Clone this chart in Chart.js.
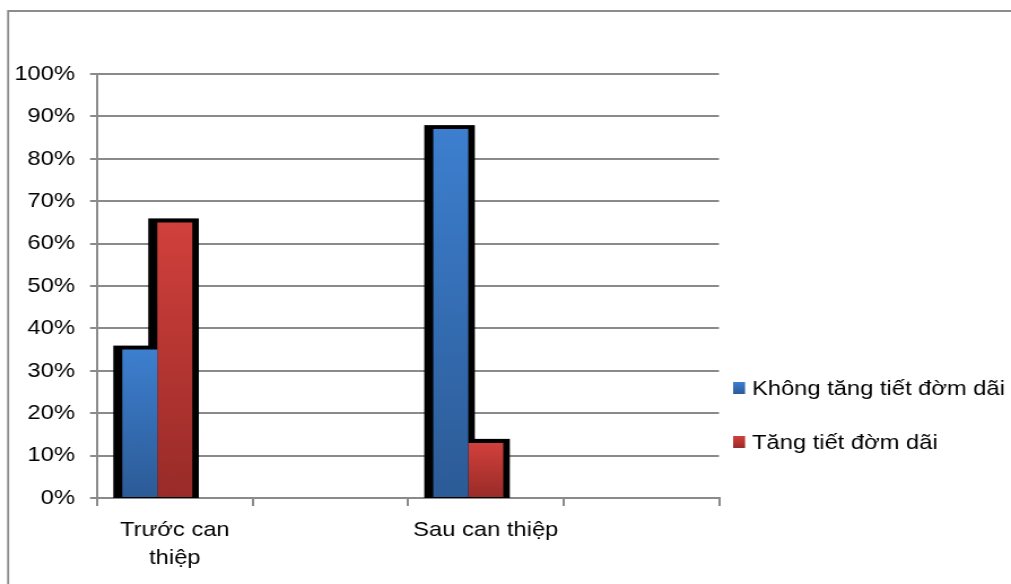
<!DOCTYPE html>
<html lang="vi">
<head>
  <meta charset="UTF-8" />
  <title>Tăng tiết đờm dãi</title>
  <style>
    html, body {
      margin: 0;
      padding: 0;
      background: #fff;
      overflow: hidden;
    }
    /* chart is laid out on a narrower canvas and widened to fill the page */
    #wrap {
      width: 895px;
      height: 584px;
      transform: scaleX(1.1296);
      transform-origin: 0 0;
    }
  </style>
</head>
<body>
  <div id="wrap"><canvas id="chart" width="895" height="584"></canvas></div>

  <script src="https://cdn.jsdelivr.net/npm/chart.js"></script>
  <script>
    const categories = [['Trước can', 'thiệp'], '', 'Sau can thiệp', ''];
    const seriesNames = ['Không tăng tiết đờm dãi', 'Tăng tiết đờm dãi'];
    const khongTang = [35, null, 87, null];
    const tang = [65, null, 13, null];
    const emptySlot = [null, null, null, null];
    const yTickLabels = ['0%', '10%', '20%', '30%', '40%', '50%', '60%', '70%', '80%', '90%', '100%'];

    const FONT = "'Liberation Sans', Arial, sans-serif";
    const FONT_SIZE = 21;
    const GRID = '#8a8a8a';
    const blue = ['#3d7fcf', '#2c5b96'];
    const red = ['#d1403c', '#982b28'];

    // vertical gradient from the top of each bar down to the axis
    function barGradient(colors) {
      return (ctx) => {
        const chart = ctx.chart;
        const y = chart.scales.y;
        if (ctx.type !== 'data' || !y || ctx.raw == null) return colors[0];
        const top = y.getPixelForValue(ctx.raw);
        const bottom = y.getPixelForValue(0);
        if (!isFinite(top) || !isFinite(bottom) || top === bottom) return colors[0];
        const g = chart.ctx.createLinearGradient(0, top, 0, bottom);
        g.addColorStop(0, colors[0]);
        g.addColorStop(1, colors[1]);
        return g;
      };
    }

    // thin frame along the left and top edges
    const framePlugin = {
      id: 'frame',
      beforeDraw(chart) {
        const c = chart.ctx;
        c.save();
        c.strokeStyle = '#8c8c8c';
        c.lineWidth = 1.8;
        c.beginPath();
        c.moveTo(7.2, chart.height + 2);
        c.lineTo(7.2, 11);
        c.lineTo(chart.width + 2, 11);
        c.stroke();
        c.restore();
      }
    };

    // black outline behind each bar
    const outlinePlugin = {
      id: 'barOutline',
      beforeDatasetsDraw(chart) {
        const c = chart.ctx;
        c.save();
        c.fillStyle = '#000';
        chart.data.datasets.forEach((ds, i) => {
          const meta = chart.getDatasetMeta(i);
          meta.data.forEach((bar, j) => {
            if (ds.data[j] == null) return;
            const p = bar.getProps(['x', 'y', 'base', 'width'], true);
            const left = p.x - p.width / 2 - 8;
            const right = p.x + p.width / 2 + 5.8;
            c.fillRect(left, p.y - 4, right - left, p.base - p.y + 5);
          });
        });
        c.restore();
      }
    };

    // legend on the right
    const legendPlugin = {
      id: 'sideLegend',
      afterDraw(chart) {
        const c = chart.ctx;
        const rows = [388, 442];
        c.save();
        c.font = FONT_SIZE + 'px ' + FONT;
        c.textBaseline = 'middle';
        seriesNames.forEach((name, i) => {
          const cy = rows[i];
          const colors = i === 0 ? blue : red;
          const g = c.createLinearGradient(0, cy - 6, 0, cy + 6);
          g.addColorStop(0, colors[0]);
          g.addColorStop(1, colors[1]);
          c.fillStyle = g;
          c.fillRect(649, cy - 6, 10.6, 12);
          c.fillStyle = '#000';
          c.fillText(name, 665.7, cy + 1);
        });
        c.restore();
      }
    };

    Chart.defaults.color = '#000';
    Chart.defaults.font.family = FONT;
    Chart.defaults.font.size = FONT_SIZE;

    new Chart(document.getElementById('chart'), {
      type: 'bar',
      data: {
        labels: categories,
        datasets: [
          { label: seriesNames[0], data: khongTang, backgroundColor: barGradient(blue) },
          { label: seriesNames[1], data: tang, backgroundColor: barGradient(red) },
          { label: '', data: emptySlot, backgroundColor: 'transparent' }
        ]
      },
      options: {
        responsive: false,
        animation: false,
        events: [],
        categoryPercentage: 0.675,
        barPercentage: 1,
        layout: { padding: { left: 0, top: 74, right: 258.5, bottom: 0 } },
        plugins: {
          legend: { display: false },
          tooltip: { enabled: false }
        },
        scales: {
          x: {
            ticks: { color: '#000', padding: 11, maxRotation: 0, autoSkip: false, font: { lineHeight: 1.3 } },
            grid: { drawOnChartArea: false, drawTicks: true, tickLength: 8, color: GRID, lineWidth: 2, offset: true },
            border: { color: GRID, width: 2 },
            afterFit: (s) => { s.height = 86; }
          },
          y: {
            min: 0,
            max: 100,
            ticks: {
              stepSize: 10,
              color: '#000',
              padding: 13.3,
              callback: (v) => yTickLabels[Math.round(v / 10)]
            },
            grid: { color: GRID, lineWidth: 2, tickLength: 6.2 },
            border: { color: GRID, width: 2 },
            afterFit: (s) => { s.width = 85.9; }
          }
        }
      },
      plugins: [framePlugin, outlinePlugin, legendPlugin]
    });
  </script>
</body>
</html>
